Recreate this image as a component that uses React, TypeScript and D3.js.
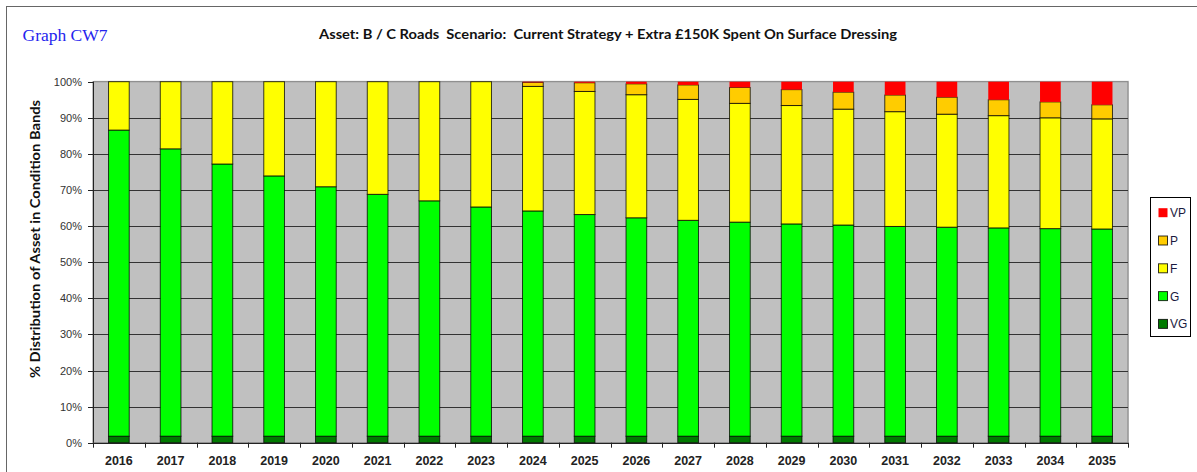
import React from "react";
import * as d3 from "d3";

const years = ["2016","2017","2018","2019","2020","2021","2022","2023","2024","2025","2026","2027","2028","2029","2030","2031","2032","2033","2034","2035"];
const vg = [1.8,1.8,1.8,1.8,1.8,1.8,1.8,1.8,1.8,1.8,1.8,1.8,1.8,1.8,1.8,1.8,1.8,1.8,1.8,1.8];
const g = [84.8,79.6,75.4,72.1,69.1,67.0,65.2,63.5,62.4,61.4,60.5,59.8,59.3,58.8,58.5,58.1,57.9,57.7,57.5,57.4];
const f = [13.4,18.6,22.8,26.1,29.1,31.2,33.0,34.7,34.5,34.1,34.1,33.5,32.9,32.8,32.1,31.8,31.3,31.1,30.7,30.5];
const p = [0,0,0,0,0,0,0,0,1.1,2.4,3.0,4.0,4.4,4.4,4.7,4.6,4.7,4.4,4.4,3.9];
const vp = [0,0,0,0,0,0,0,0,0.2,0.3,0.6,0.9,1.6,2.2,2.9,3.7,4.3,5.0,5.6,6.4];
const yTicks = [0,10,20,30,40,50,60,70,80,90,100];

const keys = ["VG","G","F","P","VP"];
const colors: Record<string,string> = { VG: "#007A00", G: "#00FF00", F: "#FFFF00", P: "#FFCC00", VP: "#FF0000" };
const legendOrder = ["VP","P","F","G","VG"];

export default function App() {
  const left = 93, right = 1128, top = 81.7, bottom = 442.7;
  const x = d3.scaleBand<string>().domain(years).range([left, right]).paddingInner(0.6).paddingOuter(0.3);
  const y = d3.scaleLinear().domain([0, 100]).range([bottom, top]);
  const rows = years.map((yr, i) => ({ year: yr, VG: vg[i], G: g[i], F: f[i], P: p[i], VP: vp[i] }));
  const series = d3.stack<any>().keys(keys)(rows);
  const step = x.step();
  const boundaries = d3.range(years.length + 1).map(i => left + i * step);

  return (
    <svg width={1197} height={472} style={{ position: "absolute", left: 0, top: 0, background: "#fff" }}>
      <rect x={6.5} y={6.5} width={1300} height={600} fill="#fff" stroke="#666" strokeWidth={1} />
      <text x={22.5} y={40.5} fontFamily="'Liberation Serif', 'Times New Roman', serif" fontSize={17.5} fill="#2424EE">Graph CW7</text>
      <text x={319} y={39} fontFamily="Lato, 'Liberation Sans', sans-serif" fontWeight="bold" fontSize={13.5} fill="#111" textLength={578} lengthAdjust="spacingAndGlyphs" style={{ whiteSpace: "pre" }}>Asset: B / C Roads  Scenario:  Current Strategy + Extra £150K Spent On Surface Dressing</text>

      {/* plot area */}
      <rect x={left + 1} y={top - 1} width={right - left} height={bottom - top} fill="#D8D8D8" />
      <rect x={left} y={top} width={right - left} height={bottom - top} fill="#C0C0C0" stroke="#808080" strokeWidth={1} />
      {yTicks.map(t => (
        <g key={t}>
          {t > 0 && t < 100 && <line x1={left} x2={right} y1={Math.round(y(t)) + 0.5} y2={Math.round(y(t)) + 0.5} stroke="#333" strokeWidth={1} />}
          <line x1={left - 5} x2={left} y1={Math.round(y(t)) + 0.5} y2={Math.round(y(t)) + 0.5} stroke="#222" strokeWidth={1} />
          <text x={82} y={y(t) + 4} textAnchor="end" fontFamily="'Liberation Sans', Arial, sans-serif" fontSize={11} fill="#333">{t}%</text>
        </g>
      ))}

      {series.map(s => (
        <g key={s.key}>
          {s.map((d: any, i: number) => {
            const h = y(d[0]) - y(d[1]);
            if (h <= 0.01) return null;
            return (
              <rect key={i} x={(x(years[i]) as number)} y={y(d[1])} width={x.bandwidth()} height={h}
                fill={colors[s.key]} stroke={s.key === "VP" ? "none" : "#000"} strokeOpacity={0.75} strokeWidth={1} />
            );
          })}
        </g>
      ))}

      {/* axes */}
      <line x1={left + 0.5} x2={left + 0.5} y1={top} y2={bottom} stroke="#222" strokeWidth={1} />
      <line x1={left} x2={right} y1={Math.round(bottom) + 0.5} y2={Math.round(bottom) + 0.5} stroke="#222" strokeWidth={1} />
      {boundaries.map((bx, i) => (
        <line key={i} x1={Math.round(bx) + 0.5} x2={Math.round(bx) + 0.5} y1={bottom} y2={bottom + 5} stroke="#222" strokeWidth={1} />
      ))}
      {years.map(yr => (
        <text key={yr} x={(x(yr) as number) + x.bandwidth() / 2} y={465} textAnchor="middle" fontFamily="'Liberation Sans', Arial, sans-serif" fontWeight="bold" fontSize={12.5} fill="#222">{yr}</text>
      ))}

      <text transform={`translate(40, 239) rotate(-90)`} textAnchor="middle" fontFamily="Lato, 'Liberation Sans', sans-serif" fontWeight="bold" fontSize={12.5} fill="#111" textLength={278} lengthAdjust="spacingAndGlyphs">% Distribution of Asset in Condition Bands</text>

      {/* legend */}
      <rect x={1150.5} y={197.5} width={40} height={139} fill="#fff" stroke="#000" strokeWidth={1} />
      {legendOrder.map((k, i) => {
        const cy = 212.7 + i * 27.8;
        return (
          <g key={k}>
            <rect x={1158.5} y={cy - 4.5} width={9} height={9} fill={colors[k]} stroke={k === "VP" ? "none" : "#000"} strokeOpacity={0.8} strokeWidth={1} />
            <text x={1170} y={cy + 4.5} fontFamily="'Liberation Sans', Arial, sans-serif" fontSize={12} fill="#1a1a40">{k}</text>
          </g>
        );
      })}
    </svg>
  );
}
